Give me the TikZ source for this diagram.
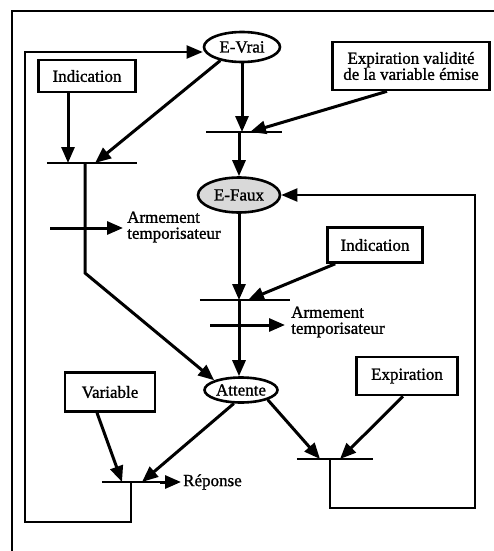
\documentclass[tikz,border=0pt]{standalone}
\usepackage{fontspec}
\setmainfont{Liberation Serif}[FakeBold=1.2]
\usetikzlibrary{arrows.meta,calc,shapes.geometric}

\tikzset{
  etat/.style={ellipse,draw,line width=2.6pt,inner sep=0pt},
  boite/.style={rectangle,draw,line width=2.6pt,align=center,inner sep=0pt},
  trans/.style={inner sep=0pt,minimum height=0pt},
  texte/.style={anchor=west,align=left,inner sep=2pt},
  fleche/.style={-{Triangle[length=16pt,width=13pt]},line width=3pt},
  boucle/.style={-{Triangle[length=16pt,width=13pt]},line width=2pt},
}

\begin{document}
\begin{tikzpicture}[x=1pt,y=-1pt,font=\fontsize{17}{16}\selectfont]
\useasboundingbox (0,0) rectangle (494,551);
% cadre
\draw[line width=2pt] (12,551) -- (12,11) -- (494,11);

% etats
\node[etat,minimum width=76pt,minimum height=30pt] (evrai) at (242,47) {E-Vrai};
\node[etat,minimum width=82pt,minimum height=35pt,fill=black!15] (efaux) at (239,195) {E-Faux};
\node[etat,minimum width=73pt,minimum height=25pt] (attente) at (241,390) {Attente};

% evenements
\node[boite,minimum width=97pt,minimum height=32pt] (ind1) at (87,76) {Indication};
\node[boite,minimum width=157pt,minimum height=48pt] (expval) at (411,66) {Expiration validité\\de la variable émise};
\node[boite,minimum width=95pt,minimum height=35pt] (ind2) at (375,245) {Indication};
\node[boite,minimum width=90pt,minimum height=39pt] (var) at (110,392) {Variable};
\node[boite,minimum width=101pt,minimum height=38pt] (expir) at (407,376) {Expiration};

% transitions
\node[trans,minimum width=90pt] (t1) at (92,163) {};
\node[trans,minimum width=75pt] (t2) at (244,132) {};
\node[trans,minimum width=90pt] (t3) at (245,300) {};
\node[trans,minimum width=58pt] (t4) at (131,482) {};
\node[trans,minimum width=76pt] (t5) at (335,459) {};
\foreach \t in {t1,t2,t3,t4,t5}
  \draw[line width=2.6pt] (\t.west) -- (\t.east);

% actions
\node[texte] (arm1) at (125,227) {Armement\\temporisateur};
\node[texte] (arm2) at (289,322) {Armement\\temporisateur};
\node[texte] (rep) at (181,482) {Réponse};
\coordinate (a1) at (50,228);
\coordinate (a2) at (210,325);
\coordinate (ll) at (25,522);
\coordinate (rl) at (475,508);

% arcs
\draw[fleche] ($(ind1.south)+(-19,0)$) -- ($(t1)+(-24,0)$);
\draw[fleche] (evrai.212) -- ($(t1)+(3,0)$);
\draw[fleche] ($(t1)+(-7,0)$) -- ++(0,110) -- (attente.160);
\draw[fleche] (a1) -- ($(arm1.west)+(-2,1)$);
\draw[fleche] (evrai.south) -- (evrai.south |- t2);
\draw[fleche] ($(expval.south)+(-24,0)$) -- ($(t2)+(6,0)$);
\draw[fleche] (efaux.north |- t2) -- (efaux.north);
\draw[fleche] ($(ind2.south west)+(9,0)$) -- ($(t3)+(3,0)$);
\draw[fleche] (efaux.south) -- (efaux.south |- t3);
\draw[fleche] (a2) -- ($(arm2.west)+(-4,3)$);
\draw[fleche] (efaux.south |- t3) -- (efaux.south |- attente.north);
\draw[fleche] ($(var.south)+(-13,0)$) -- ($(t4)+(-9,0)$);
\draw[fleche] (attente.242) -- ($(t4)+(11,0)$);
\draw[fleche] (t4.east) -- (rep.west);
\draw[fleche] (attente.south east) -- ($(t5)+(-15,0)$);
\draw[fleche] ($(expir.south)+(-4,0)$) -- ($(t5)+(5,0)$);

% boucles
\draw[boucle] (t4) |- (ll) |- ([yshift=-5pt]evrai.west);
\draw[boucle] ($(t5)+(-5,0)$) |- (rl) |- (efaux.east);
\end{tikzpicture}
\end{document}
